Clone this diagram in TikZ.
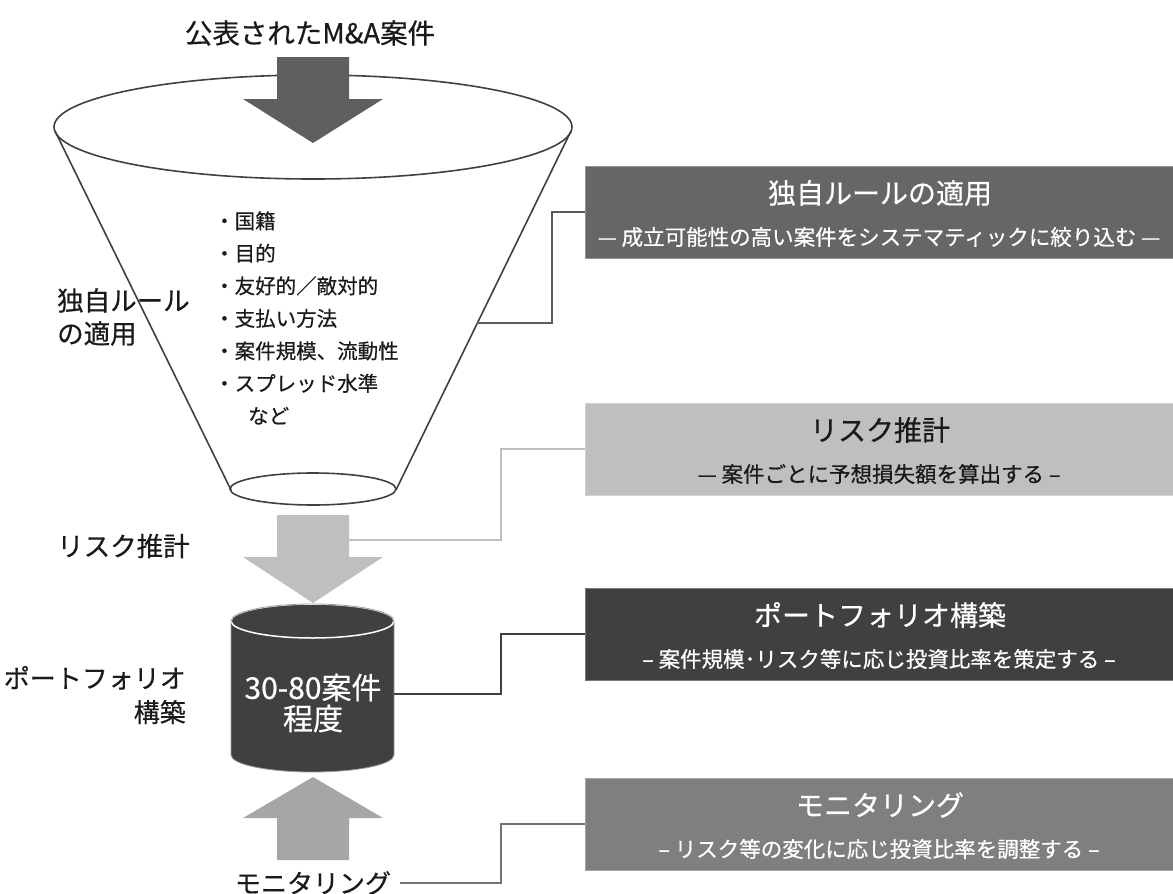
\documentclass[tikz,border=0pt]{standalone}
\usepackage{fontspec}
\setmainfont{Noto Sans CJK JP}[FakeBold=0.5]
\usetikzlibrary{calc}
\definecolor{arrowdark}{HTML}{5F5F5F}
\definecolor{arrowlight}{HTML}{BFBFBF}
\definecolor{arrowmid}{HTML}{A6A6A6}
\definecolor{boxA}{HTML}{666666}
\definecolor{boxB}{HTML}{BFBFBF}
\definecolor{boxC}{HTML}{404040}
\definecolor{boxD}{HTML}{7F7F7F}
\definecolor{funnelline}{HTML}{404040}
\definecolor{cylfill}{HTML}{404040}
\definecolor{textdark}{HTML}{1A1A1A}
\newcommand{\fsz}[2]{\fontsize{#1}{#2}\selectfont}
\begin{document}
\begin{tikzpicture}[x=1pt,y=-1pt,
  funnel/.style={draw=funnelline,line width=1.6pt},
  stagebox/.style={rectangle,minimum width=592pt,minimum height=92pt,draw=#1!70!white,line width=0.8pt,fill=#1,inner sep=0pt},
  boxtitle/.style={inner sep=0pt,font=\fsz{28}{30}},
  boxsub/.style={inner sep=0pt,font=\fsz{21.5}{24}},
  lab/.style={inner sep=0pt,text=textdark,font=\fsz{26.5}{33}},
  conn/.style={line width=2pt,draw=#1},
]
\useasboundingbox (0,0) rectangle (1173,894);

% title
\node[lab,font=\fsz{27.5}{30}] (top) at (310,33) {公表されたM\&A案件};

% funnel
\draw[funnel] (55,131) -- (231,490);
\draw[funnel] (571,131) -- (396,490);
\draw[funnel] (313,127) ellipse [x radius=259pt, y radius=52pt];
\draw[funnel] (313,489) ellipse [x radius=83pt, y radius=16pt];

% top arrow
\fill[arrowdark] (277,57) -- (349,57) -- (349,99) -- (383,99) -- (313,143) -- (243,99) -- (277,99) -- cycle;

% criteria list
\node[inner sep=0pt,anchor=west,align=left,text=textdark,font=\fsz{20.5}{32.5}] (crit) at (214,318)
  {・国籍\\・目的\\・友好的／敵対的\\・支払い方法\\・案件規模、流動性\\・スプレッド水準\\\hspace*{34pt}など};

% second arrow (down)
\fill[arrowlight] (277,515) -- (349,515) -- (349,557) -- (383,557) -- (313,603) -- (243,557) -- (277,557) -- cycle;

% cylinder
\fill[cylfill] (231,621) -- (231,755) arc[start angle=180,end angle=360,x radius=81.5pt,y radius=17pt]
  -- (394,621) arc[start angle=0,end angle=180,x radius=81.5pt,y radius=17pt] -- cycle;
\draw[white,line width=1.5pt] (312.5,621) ellipse [x radius=81.5pt, y radius=17pt];
\draw[draw=gray!80,line width=0.8pt] (231,621) -- (231,755) arc[start angle=180,end angle=360,x radius=81.5pt,y radius=17pt]
  -- (394,621) arc[start angle=0,end angle=180,x radius=81.5pt,y radius=17pt];
\node[inner sep=0pt,align=center,text=white,font=\fsz{30}{31}] (cyl) at (313,703) {30-80案件\\程度};

% third arrow (up)
\fill[arrowmid] (313,777) -- (383,818) -- (349,818) -- (349,860) -- (277,860) -- (277,818) -- (243,818) -- cycle;

% left labels
\node[lab,anchor=west,align=left] (l1) at (57,317) {独自ルール\\の適用};
\node[lab,anchor=west] (l2) at (57,546) {リスク推計};
\node[lab,anchor=east,align=right,font=\fsz{26}{34}] (l3) at (186,695) {ポートフォリオ\\構築};
\node[lab,font=\fsz{26}{30}] (l4) at (313,883) {モニタリング};

% boxes
\node[stagebox=boxA] (b1) at (881,212) {};
\node[boxtitle,text=white] (b1t) at (880,193) {独自ルールの適用};
\node[boxsub,text=white] (b1s) at (879,237) {— 成立可能性の高い案件をシステマティックに絞り込む —};

\node[stagebox=boxB] (b2) at (881,449) {};
\node[boxtitle,text=textdark] (b2t) at (880,430) {リスク推計};
\node[boxsub,text=textdark] (b2s) at (879,474) {— 案件ごとに予想損失額を算出する –};

\node[stagebox=boxC] (b3) at (881,634) {};
\node[boxtitle,text=white] (b3t) at (880,615) {ポートフォリオ構築};
\node[boxsub,text=white] (b3s) at (879,659) {– 案件規模･リスク等に応じ投資比率を策定する –};

\node[stagebox=boxD] (b4) at (881,824) {};
\node[boxtitle,text=white] (b4t) at (880,805) {モニタリング};
\node[boxsub,text=white] (b4s) at (879,849) {– リスク等の変化に応じ投資比率を調整する –};

% connector start points
\coordinate (f1) at (477,323);
\coordinate (a2r) at (349,540);
\coordinate (cylr) at (394,694);

\draw[conn=boxA!90!black] (f1) -| ([xshift=-33pt]b1.west) -- (b1.west);
\draw[conn=boxB] (a2r) -| ([xshift=-84pt]b2.west) -- (b2.west);
\draw[conn=boxC] (cylr) -| ([xshift=-84pt]b3.west) -- (b3.west);
\draw[conn=boxD!90!black] ([xshift=9pt]l4.east) -| ([xshift=-84pt]b4.west) -- (b4.west);
\end{tikzpicture}
\end{document}
